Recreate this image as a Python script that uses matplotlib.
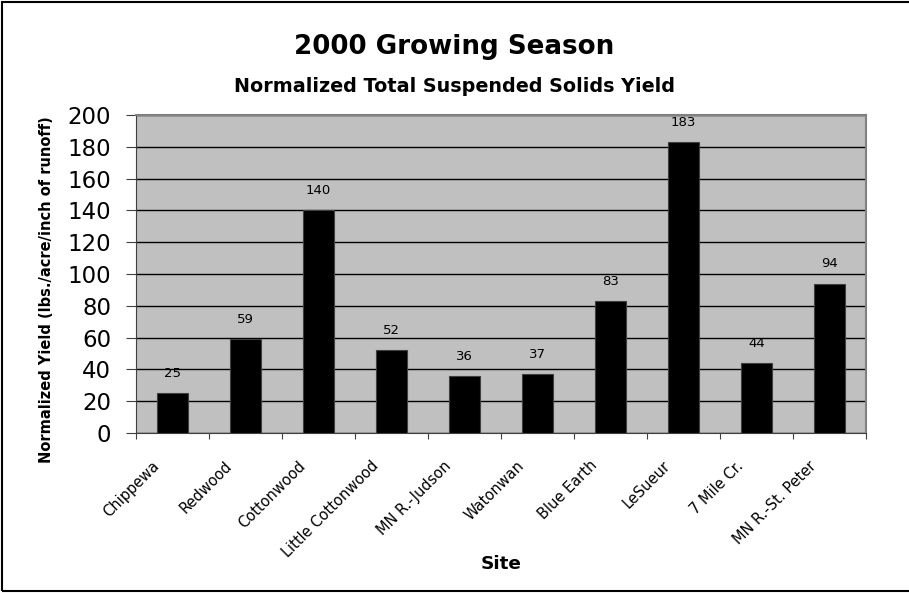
import matplotlib
matplotlib.use("Agg")
import matplotlib.pyplot as plt
from matplotlib.patches import Rectangle
from matplotlib.transforms import ScaledTranslation
import numpy as np

sites = ["Chippewa", "Redwood", "Cottonwood", "Little Cottonwood", "MN R.-Judson",
         "Watonwan", "Blue Earth", "LeSueur", "7 Mile Cr.", "MN R.-St. Peter"]
values = [25, 59, 140, 52, 36, 37, 83, 183, 44, 94]
yticks = [0, 20, 40, 60, 80, 100, 120, 140, 160, 180, 200]

plt.rcParams['font.family'] = ['DejaVu Sans']

fig = plt.figure(figsize=(9.09, 5.93), dpi=100)
ax = fig.add_axes([136/909, 1-433/593, 730/909, 318/593])
ax.set_facecolor('#C0C0C0')

x = np.arange(len(sites))
ax.bar(x, values, width=0.43, color='black', edgecolor='#404040', linewidth=0.8, zorder=3)
for xi, v in zip(x, values):
    ax.annotate(str(v), (xi, v), xytext=(0, 9.5), textcoords='offset points',
                ha='center', va='bottom', fontsize=9.5, color='black')

ax.set_xlim(-0.5, len(sites) - 0.5)
ax.set_ylim(0, 200)
ax.set_yticks(yticks)
ax.set_yticklabels([str(t) for t in yticks], fontsize=16.5)
ax.yaxis.grid(True, color='black', linewidth=1.0, zorder=1)
ax.set_axisbelow(True)
ax.tick_params(axis='y', length=7, width=0.8, color='#404040', pad=11)

ax.set_xticks(x)
ax.set_xticklabels(sites, rotation=45, ha='right', va='top', rotation_mode='anchor', fontsize=10.5)
ax.tick_params(axis='x', which='major', length=0, pad=18)
ax.set_xticks(np.arange(len(sites) + 1) - 0.5, minor=True)
ax.tick_params(axis='x', which='minor', length=4, width=0.8, color='#404040')
off = ScaledTranslation(-21/100, 0, fig.dpi_scale_trans)
for lab in ax.get_xticklabels():
    lab.set_transform(lab.get_transform() + off)

for s in ['top', 'right']:
    ax.spines[s].set_color('#808080')
    ax.spines[s].set_linewidth(1.5)
for s in ['left', 'bottom']:
    ax.spines[s].set_color('#404040')
    ax.spines[s].set_linewidth(0.8)

ax.set_ylabel("Normalized Yield (lbs./acre/inch of runoff)", fontsize=10.5, fontweight='bold')
ax.yaxis.label.set_va('center')
ax.yaxis.set_label_coords((47-136)/730, (433-290)/318)
ax.set_xlabel("Site", fontsize=13.3, fontweight='bold')
ax.xaxis.label.set_va('center')
ax.xaxis.set_label_coords(0.5, -(564-433)/318)

fig.text(0.5, 1-47/593, "2000 Growing Season", ha='center', va='center', fontsize=18.8, fontweight='bold')
fig.text(0.5, 1-86/593, "Normalized Total Suspended Solids Yield", ha='center', va='center', fontsize=13.8, fontweight='bold')

fig.patches.append(Rectangle((2/909, 1-591/593), 1.2, (591-2)/593, transform=fig.transFigure,
                             fill=False, edgecolor='black', linewidth=1.5))

fig.savefig("out.png", dpi=100)
